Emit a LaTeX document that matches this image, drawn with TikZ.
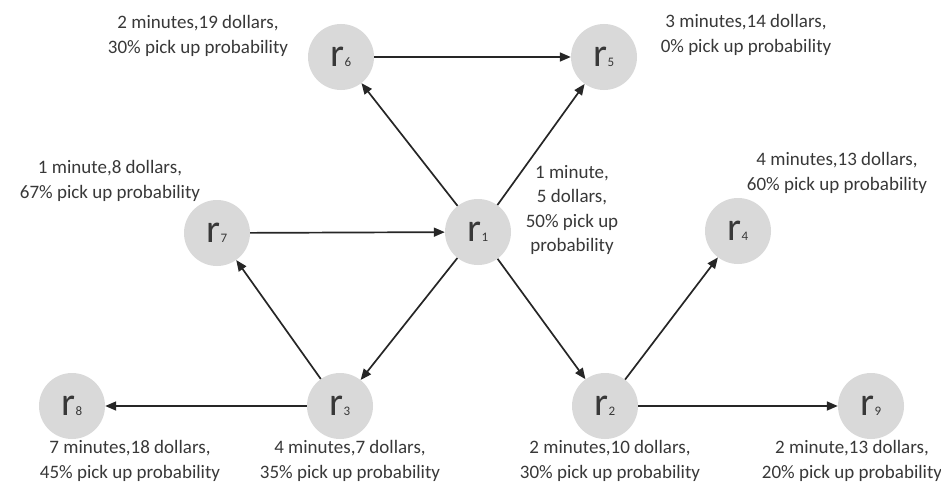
\documentclass[tikz,border=0pt]{standalone}
\usepackage{fontspec}
\setmainfont{Carlito}
\usepackage{tikz}
\usetikzlibrary{arrows.meta}
\definecolor{nodegray}{HTML}{D9D9D9}
\definecolor{textgray}{HTML}{383838}
\newcommand{\rlab}[1]{\fontsize{40}{40}\selectfont r\fontsize{13}{13}\selectfont #1}
\tikzset{
  rnode/.style={circle, fill=nodegray, minimum size=66pt, inner sep=0pt, text=textgray},
  info/.style={align=center, text=textgray, font=\fontsize{19}{24.5}\selectfont},
  link/.style={-{Triangle[length=11pt,width=9pt]}, line width=1.7pt, black!85},
}

\begin{document}
\begin{tikzpicture}[x=1pt,y=-1pt]

    \useasboundingbox (0,0) rectangle (941,487);

    % places
    \node[rnode] (r6) at (341,57) {\rlab{6}};
    \node[rnode] (r5) at (604,57) {\rlab{5}};
    \node[rnode] (r7) at (217,233) {\rlab{7}};
    \node[rnode] (r1) at (478,232) {\rlab{1}};
    \node[rnode] (r4) at (738,231) {\rlab{4}};
    \node[rnode] (r8) at (72,406) {\rlab{8}};
    \node[rnode] (r3) at (340,406) {\rlab{3}};
    \node[rnode] (r2) at (605,406) {\rlab{2}};
    \node[rnode] (r9) at (871,406) {\rlab{9}};

    % costs
    \node[info] (l6) at (198,36) {2 minutes,19 dollars,\\30\% pick up probability};
    \node[info] (l5) at (746,35) {3 minutes,14 dollars,\\0\% pick up probability};
    \node[info] (l7) at (110,181) {1 minute,8 dollars,\\67\% pick up probability};
    \node[info] (l4) at (837,173) {4 minutes,13 dollars,\\60\% pick up probability};
    \node[info] (l1) at (572,210) {1 minute,\\5 dollars,\\50\% pick up\\probability};
    \node[info] (l8) at (130,461) {7 minutes,18 dollars,\\45\% pick up probability};
    \node[info] (l3) at (350,461) {4 minutes,7 dollars,\\35\% pick up probability};
    \node[info] (l2) at (610,461) {2 minutes,10 dollars,\\30\% pick up probability};
    \node[info] (l9) at (852,461) {2 minute,13 dollars,\\20\% pick up probability};

    % moves
    \draw[link] (r6) -- (r5);
    \draw[link] (r1) -- (r6);
    \draw[link] (r1) -- (r5);
    \draw[link] (r7) -- (r1);
    \draw[link] (r1) -- (r3);
    \draw[link] (r1) -- (r2);
    \draw[link] (r3) -- (r7);
    \draw[link] (r3) -- (r8);
    \draw[link] (r2) -- (r4);
    \draw[link] (r2) -- (r9);

\end{tikzpicture}
\end{document}
